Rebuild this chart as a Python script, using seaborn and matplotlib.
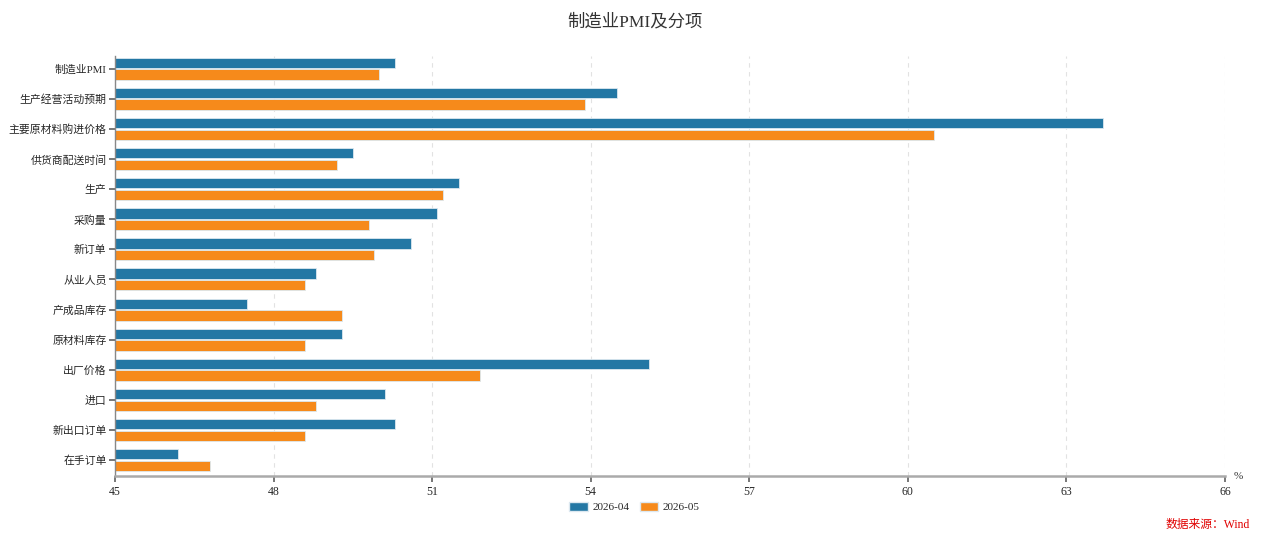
import pandas as pd
import numpy as np
import matplotlib.pyplot as plt
import seaborn as sns

sns.set_theme(style='white')
plt.rcParams['font.family'] = ['Liberation Serif', 'Noto Sans CJK SC', 'DejaVu Sans']
plt.rcParams['axes.unicode_minus'] = False

categories = ['制造业PMI', '生产经营活动预期', '主要原材料购进价格', '供货商配送时间', '生产', '采购量',
              '新订单', '从业人员', '产成品库存', '原材料库存', '出厂价格', '进口', '新出口订单', '在手订单']
months = ['2026-04', '2026-05']
vals_apr = [50.3, 54.5, 63.7, 49.5, 51.5, 51.1, 50.6, 48.8, 47.5, 49.3, 55.1, 50.1, 50.3, 46.2]
vals_may = [50.0, 53.9, 60.5, 49.2, 51.2, 49.8, 49.9, 48.6, 49.3, 48.6, 51.9, 48.8, 48.6, 46.8]
xticks = [45, 48, 51, 54, 57, 60, 63, 66]
colors = ['#2377a4', '#f68a1b']

df = pd.DataFrame({
    '项目': categories * 2,
    '月份': [months[0]] * len(categories) + [months[1]] * len(categories),
    '数值': vals_apr + vals_may,
})

fig = plt.figure(figsize=(12.69, 5.41), dpi=100)
ax = fig.add_axes([0.0906, 0.120, 0.8747, 0.777])
sns.barplot(data=df, y='项目', x='数值', hue='月份', order=categories, hue_order=months,
            palette=colors, orient='h', width=0.78, gap=0.12, edgecolor='#dce8f0', linewidth=0.6,
            saturation=1, ax=ax, legend=True)
ax.set_xlim(45, 66)
ax.set_ylim(len(categories) - 0.47, -0.43)
ax.set_xticks(xticks)
ax.set_xticklabels([str(t) for t in xticks], fontsize=8.5)
ax.tick_params(axis='y', labelsize=7.8, length=4, color='#666666', left=True, pad=2)
ax.tick_params(axis='x', length=4, color='#666666', bottom=True, pad=3)
ax.set_xlabel('')
ax.set_ylabel('')
ax.grid(axis='x', linestyle=(0, (4, 4)), color='#e2e2e2', linewidth=0.8)
ax.set_axisbelow(True)
for s in ['top', 'right']:
    ax.spines[s].set_visible(False)
ax.spines['left'].set_color('#888888')
ax.spines['left'].set_linewidth(1)
ax.spines['bottom'].set_color('#aaaaaa')
ax.spines['bottom'].set_linewidth(1.8)
ax.text(1.008, 0.0, '%', transform=ax.transAxes, fontsize=8, va='center', ha='left', color='#333333')

ax.legend_.remove()
handles = [plt.Rectangle((0, 0), 1, 1, facecolor=c, edgecolor='#dce8f0') for c in colors]
fig.legend(handles, months, loc='center', bbox_to_anchor=(0.5, 0.063), ncol=2, frameon=False,
           fontsize=8, handlelength=1.7, handleheight=1.0, handletextpad=0.4, columnspacing=0.9)

fig.text(0.5, 0.960, '制造业PMI及分项', ha='center', va='center', fontsize=12.5, color='#333333')
fig.text(0.985, 0.030, '数据来源：Wind', ha='right', va='center', fontsize=8.5, color='#e00000')

plt.savefig('out.png', dpi=100)
plt.close()
